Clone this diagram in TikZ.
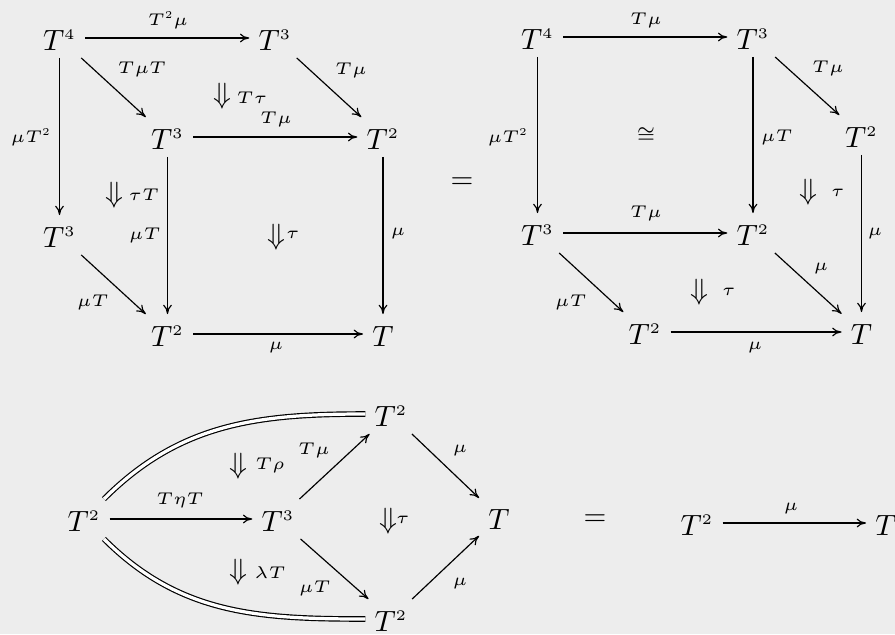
\RequirePackage{fix-cm}
\documentclass[tikz,border=0pt]{standalone}
\DeclareMathSizes{10}{10}{5}{5}
\DeclareMathSizes{5.8}{5.8}{3.6}{3.6}
\usetikzlibrary{arrows.meta}
\definecolor{bg}{RGB}{237,237,237}
\begin{document}
\begin{tikzpicture}[x=0.341pt,y=0.341pt,
  obj/.style={inner xsep=3pt,inner ysep=2.3pt,text height=8.6pt,text depth=0pt,font=\fontsize{10}{12}\selectfont},
  lbl/.style={inner sep=0pt,font=\fontsize{5.8}{6.5}\selectfont},
  cell/.style={inner sep=0pt,font=\fontsize{10}{12}\selectfont},
  arr/.style={-{Computer Modern Rightarrow[length=3.2pt,width=3pt]},line width=0.4pt},
  eqline/.style={double,double distance=1.1pt,line width=0.4pt}]
\fill[bg] (0,0) rectangle (895,-634);
\useasboundingbox (0,0) rectangle (895,-634);
% top-left diagram
\node[obj] (a1) at (59.5,-38) {$T^4$};
\node[obj] (a2) at (275,-38) {$T^3$};
\node[obj] (a3) at (167.5,-137) {$T^3$};
\node[obj] (a4) at (383,-137) {$T^2$};
\node[obj] (a5) at (59.5,-235) {$T^3$};
\node[obj] (a6) at (167.5,-334) {$T^2$};
\node[obj] (a7) at (383,-334) {$T$};
\draw[arr] (a1) -- (a2);
\draw[arr] (a1) -- (a3);
\draw[arr] (a2) -- (a4);
\draw[arr] (a3) -- (a4);
\draw[arr] (a1) -- (a5);
\draw[arr] (a3) -- (a6);
\draw[arr] (a4) -- (a7);
\draw[arr] (a5) -- (a6);
\draw[arr] (a6) -- (a7);
\node[lbl] (la1) at (168,-20) {$T^2\mu$};
\node[lbl] (la2) at (142,-69) {$T\mu T$};
\node[lbl] (la3) at (351,-70) {$T\mu$};
\node[cell] (da1) at (222,-96) {$\Downarrow$};
\node[lbl] (la4) at (252,-98) {$T\tau$};
\node[lbl] (la5) at (276,-119) {$T\mu$};
\node[lbl] (la6) at (31,-137) {$\mu T^2$};
\node[cell] (da2) at (114,-195) {$\Downarrow$};
\node[lbl] (la7) at (144,-195) {$\tau T$};
\node[lbl] (la8) at (145,-235) {$\mu T$};
\node[cell] (da3) at (276,-237) {$\Downarrow$};
\node[lbl] (la9) at (293,-235) {$\tau$};
\node[lbl] (la10) at (398,-233) {$\mu$};
\node[lbl] (la11) at (93,-302) {$\mu T$};
\node[lbl] (la12) at (276,-347) {$\mu$};
\node[cell] (eq1) at (462,-183) {$=$};
% top-right diagram
\node[obj] (b1) at (537.5,-37) {$T^4$};
\node[obj] (b2) at (753,-37) {$T^3$};
\node[obj] (b3) at (861.5,-135) {$T^2$};
\node[obj] (b4) at (537.5,-233) {$T^3$};
\node[obj] (b5) at (753,-233) {$T^2$};
\node[obj] (b6) at (645,-332) {$T^2$};
\node[obj] (b7) at (861.5,-332) {$T$};
\draw[arr] (b1) -- (b2);
\draw[arr] (b2) -- (b3);
\draw[arr] (b1) -- (b4);
\draw[arr] (b2) -- (b5);
\draw[arr] (b3) -- (b7);
\draw[arr] (b4) -- (b5);
\draw[arr] (b5) -- (b7);
\draw[arr] (b4) -- (b6);
\draw[arr] (b6) -- (b7);
\node[lbl] (lb1) at (646,-20) {$T\mu$};
\node[lbl] (lb2) at (828,-68) {$T\mu$};
\node[lbl] (lb3) at (508,-137) {$\mu T^2$};
\node[inner sep=0pt,font=\fontsize{7}{8}\selectfont] (iso) at (646,-135) {$\cong$};
\node[lbl] (lb4) at (777,-137) {$\mu T$};
\node[cell] (db1) at (808,-192) {$\Downarrow$};
\node[lbl] (lb5) at (838,-193) {$\tau$};
\node[lbl] (lb6) at (875,-233) {$\mu$};
\node[lbl] (lb7) at (646,-213) {$T\mu$};
\node[lbl] (lb8) at (821,-268) {$\mu$};
\node[lbl] (lb9) at (571,-302) {$\mu T$};
\node[cell] (db2) at (699,-292) {$\Downarrow$};
\node[lbl] (lb10) at (729,-292) {$\tau$};
\node[lbl] (lb11) at (755,-347) {$\mu$};
% bottom diagram
\node[obj] (c1) at (84,-519) {$T^2$};
\node[obj] (c2) at (278,-519) {$T^3$};
\node[obj] (c3) at (391,-414) {$T^2$};
\node[obj] (c4) at (391,-619) {$T^2$};
\node[obj] (c5) at (499,-517) {$T$};
\node[obj] (c6) at (697,-523) {$T^2$};
\node[obj] (c7) at (886,-523) {$T$};
\draw[arr] (c1) -- (c2);
\draw[arr] (c2) -- (c3);
\draw[arr] (c2) -- (c4);
\draw[arr] (c3) -- (c5);
\draw[arr] (c4) -- (c5);
\draw[arr] (c6) -- (c7);
\draw[eqline] (c1) to[out=45,in=180] (c3);
\draw[eqline] (c1) to[out=-45,in=180] (c4);
\node[lbl] (lc1) at (180,-500) {$T\eta T$};
\node[lbl] (lc2) at (314,-450) {$T\mu$};
\node[lbl] (lc3) at (315,-588) {$\mu T$};
\node[cell] (dc1) at (238,-466) {$\Downarrow$};
\node[lbl] (lc4) at (270,-465) {$T\rho$};
\node[cell] (dc2) at (238,-572) {$\Downarrow$};
\node[lbl] (lc5) at (270,-573) {$\lambda T$};
\node[cell] (dc3) at (388,-521) {$\Downarrow$};
\node[lbl] (lc6) at (403,-520) {$\tau$};
\node[lbl] (lc7) at (460,-450) {$\mu$};
\node[lbl] (lc8) at (460,-583) {$\mu$};
\node[lbl] (lc9) at (791,-508) {$\mu$};
\node[cell] (eq2) at (595,-520) {$=$};
\end{tikzpicture}
\end{document}
